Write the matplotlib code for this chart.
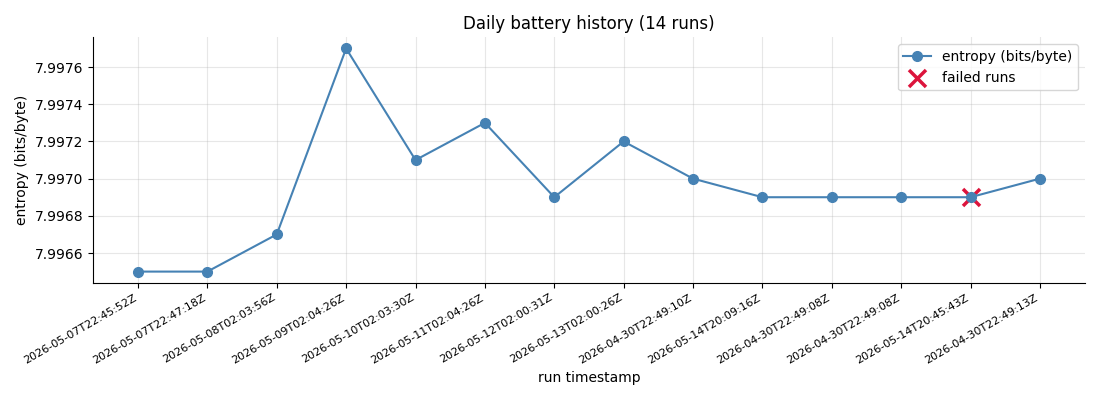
import matplotlib
matplotlib.use('Agg')
import matplotlib.pyplot as plt
from matplotlib.ticker import FormatStrFormatter

# ── data ──
timestamps = [
    '2026-05-07T22:45:52Z', '2026-05-07T22:47:18Z', '2026-05-08T02:03:56Z',
    '2026-05-09T02:04:26Z', '2026-05-10T02:03:30Z', '2026-05-11T02:04:26Z',
    '2026-05-12T02:00:31Z', '2026-05-13T02:00:26Z', '2026-04-30T22:49:10Z',
    '2026-05-14T20:09:16Z', '2026-04-30T22:49:08Z', '2026-04-30T22:49:08Z',
    '2026-05-14T20:45:43Z', '2026-04-30T22:49:13Z',
]
entropy = [7.9965, 7.9965, 7.9967, 7.9977, 7.9971, 7.9973, 7.9969,
           7.9972, 7.9970, 7.9969, 7.9969, 7.9969, 7.9969, 7.9970]
failed_idx = [12]

fig, ax = plt.subplots(figsize=(11, 4), dpi=100)
x = list(range(len(timestamps)))
ax.plot(x, entropy, marker='o', color='steelblue', markersize=7,
        linewidth=1.5, label='entropy (bits/byte)')
# cross sits under the line markers, like the original
ax.scatter([x[i] for i in failed_idx], [entropy[i] for i in failed_idx],
           marker='x', color='crimson', s=150, linewidths=2.5,
           label='failed runs')

ax.set_xticks(x)
ax.set_xticklabels(timestamps, rotation=30, ha='right', fontsize=8)
ax.yaxis.set_major_formatter(FormatStrFormatter('%.4f'))
ax.set_xlabel('run timestamp')
ax.set_ylabel('entropy (bits/byte)')
ax.set_title('Daily battery history (14 runs)')
ax.grid(True, alpha=0.3)
ax.spines['top'].set_visible(False)
ax.spines['right'].set_visible(False)
ax.legend(loc='upper right')

fig.tight_layout()
fig.savefig('out.png', dpi=100)
